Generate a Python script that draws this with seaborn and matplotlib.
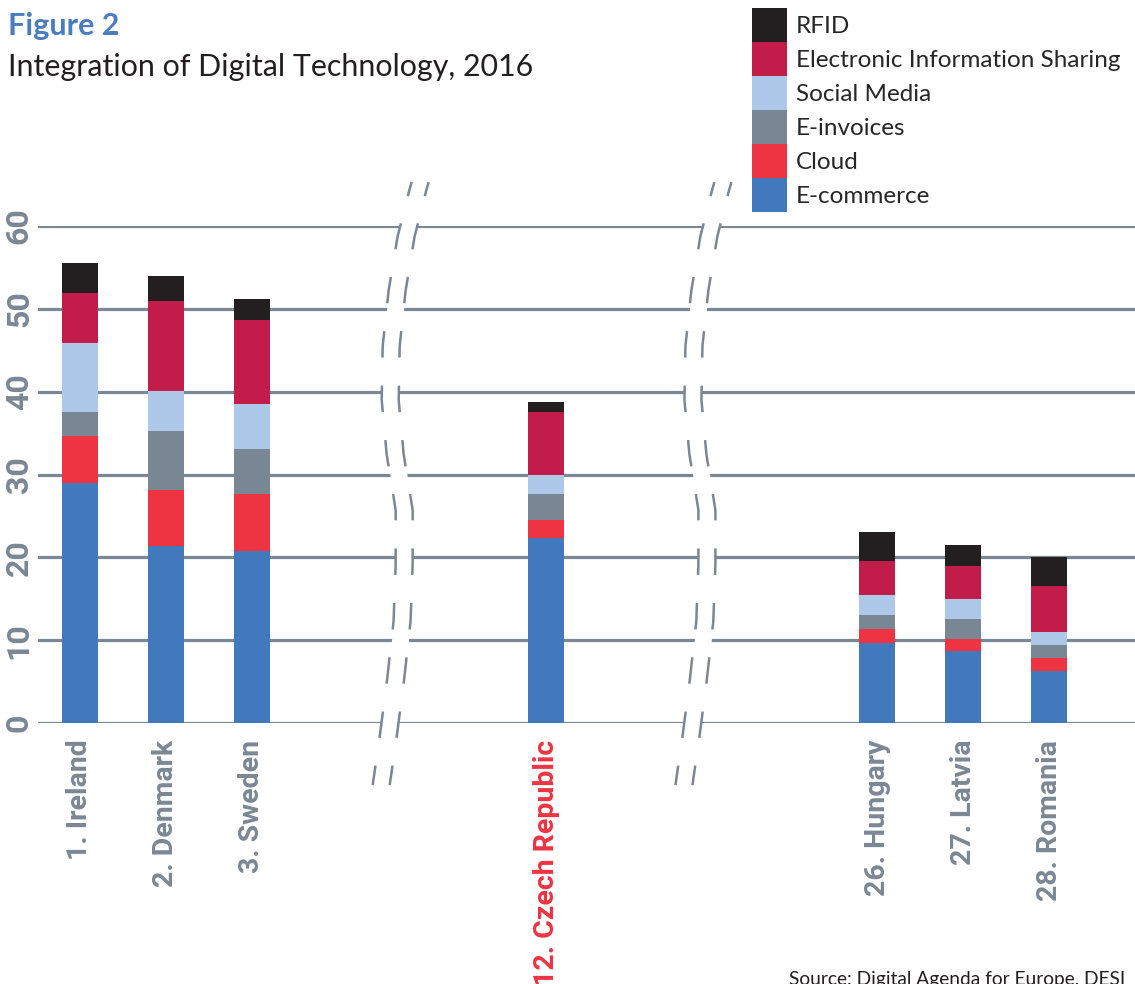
import numpy as np
import matplotlib
matplotlib.use("Agg")
import matplotlib.pyplot as plt
import seaborn as sns
from matplotlib.patches import Patch

# Data
countries = ["1. Ireland", "2. Denmark", "3. Sweden", "12. Czech Republic",
             "26. Hungary", "27. Latvia", "28. Romania"]
ecommerce = [29.0, 21.4, 20.8, 22.3, 9.7, 8.7, 6.3]
cloud = [5.6, 6.7, 6.8, 2.2, 1.7, 1.4, 1.5]
einvoices = [2.9, 7.1, 5.5, 3.2, 1.6, 2.5, 1.6]
social_media = [8.4, 4.9, 5.4, 2.3, 2.5, 2.4, 1.6]
info_sharing = [6.05, 10.9, 10.1, 7.6, 4.0, 4.0, 5.5]
rfid = [3.6, 3.0, 2.6, 1.1, 3.5, 2.5, 3.5]

series_names = ["E-commerce", "Cloud", "E-invoices", "Social Media",
                "Electronic Information Sharing", "RFID"]
series_values = [ecommerce, cloud, einvoices, social_media, info_sharing, rfid]
series_colors = ["#4279bc", "#ee3342", "#798794", "#adc8e8", "#c21c4a", "#231f20"]

# layout: bar positions with gaps for the axis breaks
x_pos = [0, 1, 2, 5.42, 9.27, 10.27, 11.27]
break_centers = [3.70, 7.22]

GRAY = "#7b8794"
plt.rcParams["lines.scale_dashes"] = False
sns.set_style("white")

fig = plt.figure(figsize=(11.35, 9.84), dpi=100)
ax = fig.add_axes([38 / 1135, 261 / 984, 1 - 38 / 1135, 497 / 984])

# stacked bars: draw cumulative totals from the top layer down
cum = np.cumsum(np.array(series_values), axis=0)
for i in range(len(series_names) - 1, -1, -1):
    sns.barplot(x=x_pos, y=cum[i], native_scale=True, orient="x",
                color=series_colors[i], saturation=1, width=0.42,
                errorbar=None, edgecolor="none", linewidth=0, ax=ax)

ax.set_xlim(-0.488, 12.267)
ax.set_ylim(0, 60)
ax.set_axisbelow(True)
ax.yaxis.grid(True, color=GRAY, lw=2.3)
ax.xaxis.grid(False)
for s in ax.spines.values():
    s.set_visible(False)

ax.set_yticks(range(0, 61, 10))
ax.set_yticklabels([str(v) for v in range(0, 61, 10)], rotation=90, va="center",
                   color=GRAY, family="Roboto", fontweight="bold", fontsize=23)
ax.set_xticks(x_pos)
ax.set_xticklabels(countries, rotation=90, ha="center", va="top", color=GRAY,
                   family="Roboto", fontweight="bold", fontsize=20.5)
ax.get_xticklabels()[3].set_color("#ee3342")
ax.tick_params(axis="y", length=0, pad=3)
ax.tick_params(axis="x", length=0, pad=12)
ax.set_xlabel("")
ax.set_ylabel("")

# axis break marks: two wavy dashed lines, gridlines cut between them
break_y = [65.3, 64.5, 58.8, 52.3, 45.5, 39.0, 32.4, 25.7, 19.2, 12.4, 5.8, -0.8, -7.5]
break_off = [22, 20, 8, -1, -7, -8, -3, 6, 6, 4, -2, -9, -17]
yy = np.linspace(65.3, -7.5, 300)
off = np.interp(yy, break_y[::-1], break_off[::-1]) / 86.0
half = 8.5 / 86.0
for c in break_centers:
    ax.fill_betweenx(yy, c + off - half, c + off + half, color="white",
                     lw=0, zorder=1.5, clip_on=False)
    for side in (-half, half):
        ax.plot(c + off + side, yy, color=GRAY, lw=1.8, zorder=2, clip_on=False,
                linestyle=(8.6, (19.1, 20.2)), dash_capstyle="butt")

# legend
handles = [Patch(facecolor=series_colors[i], edgecolor="none", label=series_names[i])
           for i in range(len(series_names) - 1, -1, -1)]
ax.legend(handles=handles, loc="upper left", bbox_to_anchor=(752 / 1135, 1 - 8 / 984),
          bbox_transform=fig.transFigure, frameon=False,
          prop={"family": "Lato", "size": 17.5}, handlelength=1.44, handleheight=1.78,
          labelspacing=0, handletextpad=0.35, borderpad=0, borderaxespad=0)

fig.text(8 / 1135, 1 - 12 / 984, "Figure 2", fontsize=22, fontweight="bold",
         color="#4a7cc0", family="Lato", va="top", ha="left")
fig.text(8 / 1135, 1 - 53 / 984, "Integration of Digital Technology, 2016",
         fontsize=21.9, color="#231f20", family="Lato", va="top", ha="left")
fig.text(1125 / 1135, 1 - 971 / 984, "Source: Digital Agenda for Europe, DESI",
         fontsize=13.8, color="#231f20", family="Lato", va="top", ha="right")

fig.savefig("out.png", dpi=100)
